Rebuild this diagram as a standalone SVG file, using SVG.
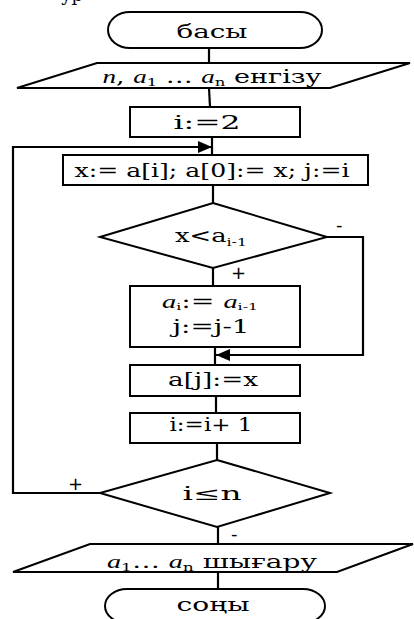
<svg xmlns="http://www.w3.org/2000/svg" width="414" height="619" viewBox="0 0 414 619">
<style>
.s{fill:#fff;stroke:#000;stroke-width:2}
.c{fill:none;stroke:#000;stroke-width:2.2}
.t{font-family:"DejaVu Serif","Liberation Serif",serif;font-size:18px;fill:#000;text-anchor:middle}
.it{font-family:"Liberation Serif",serif;font-style:italic}
.lb{font-family:"DejaVu Sans","Liberation Sans",sans-serif;font-size:18px;fill:#000}
</style>
<defs>
<marker id="ah2" markerWidth="14" markerHeight="12" refX="14" refY="6" orient="auto" markerUnits="userSpaceOnUse">
<path d="M0,0 L14,6 L0,12 Z" fill="#000"/>
</marker>
</defs>
<text x="72" y="1" class="t" font-size="20">ур</text>
<g id="connectors">
<line class="c" x1="209" y1="48" x2="209" y2="63"/>
<line class="c" x1="209" y1="88" x2="210" y2="107"/>
<line class="c" x1="212" y1="137" x2="212" y2="155"/>
<line class="c" x1="213" y1="185" x2="213" y2="203"/>
<line class="c" x1="213" y1="268" x2="213" y2="286"/>
<line class="c" x1="215" y1="347" x2="215" y2="365"/>
<line class="c" x1="216" y1="396" x2="216" y2="413"/>
<line class="c" x1="217" y1="443" x2="217" y2="460"/>
<line class="c" x1="218" y1="527" x2="218" y2="544"/>
<line class="c" x1="218" y1="572" x2="218" y2="589"/>
<polyline class="c" points="327,237 363,237 363,355 216,355" marker-end="url(#ah2)"/>
<polyline class="c" points="100,493 13,493 13,147 212,147" marker-end="url(#ah2)"/>
<text class="lb" x="336" y="231">-</text>
<text class="lb" x="231" y="279">+</text>
<text class="lb" x="68" y="490">+</text>
<text class="lb" x="231" y="540">-</text>
</g>
<g id="start">
<rect class="s" x="108" y="12" width="214" height="36" rx="22" ry="18"/>
<text class="t" x="212" y="38" textLength="71" lengthAdjust="spacingAndGlyphs">басы</text>
</g>
<g id="input">
<polygon class="s" points="97,63 410,63 330,88 17,88"/>
<text class="t" x="212" y="83" font-size="17" textLength="219" lengthAdjust="spacingAndGlyphs"><tspan class="it">n</tspan>, <tspan class="it">a</tspan><tspan font-size="11" dy="3">1</tspan><tspan dy="-3"> … </tspan><tspan class="it">a</tspan><tspan font-size="11" dy="3">n</tspan><tspan dy="-3"> енгізу</tspan></text>
</g>
<g id="init">
<rect class="s" x="130" y="107" width="170" height="30"/>
<text class="t" x="207" y="129" font-size="20" textLength="67" lengthAdjust="spacingAndGlyphs">i:=2</text>
</g>
<g id="assign">
<rect class="s" x="63" y="155" width="305" height="30"/>
<text class="t" x="212" y="177" textLength="275" lengthAdjust="spacingAndGlyphs">x:= a[i]; a[0]:= x; j:=i</text>
</g>
<g id="cond1">
<polygon class="s" points="213,203 327,237 213,268 100,237"/>
<text class="t" x="211" y="242" font-size="17" textLength="72" lengthAdjust="spacingAndGlyphs">x&lt;a<tspan font-size="11" dy="4">i-1</tspan></text>
</g>
<g id="shift">
<rect class="s" x="130" y="286" width="170" height="61"/>
<text class="t" x="210" y="308" font-size="17" textLength="96" lengthAdjust="spacingAndGlyphs"><tspan class="it">a</tspan><tspan font-size="10" dy="2">i</tspan><tspan dy="-2">:= </tspan><tspan class="it">a</tspan><tspan font-size="10" dy="2">i-1</tspan></text>
<text class="t" x="211" y="333" font-size="17" textLength="77" lengthAdjust="spacingAndGlyphs">j:=j-1</text>
</g>
<g id="store">
<rect class="s" x="130" y="365" width="170" height="31"/>
<text class="t" x="213" y="386" textLength="90" lengthAdjust="spacingAndGlyphs">a[j]:=x</text>
</g>
<g id="inc">
<rect class="s" x="130" y="413" width="170" height="30"/>
<text class="t" x="211" y="431" textLength="83" lengthAdjust="spacingAndGlyphs">i:=i+ 1</text>
</g>
<g id="cond2">
<polygon class="s" points="217,460 330,493 217,527 100,493"/>
<text class="t" x="212" y="500" font-size="19" textLength="59" lengthAdjust="spacingAndGlyphs">i≤n</text>
</g>
<g id="output">
<polygon class="s" points="90,544 413,544 337,572 13,572"/>
<text class="t" x="212" y="568" font-size="17" textLength="210" lengthAdjust="spacingAndGlyphs"><tspan class="it">a</tspan><tspan font-size="11" dy="3">1</tspan><tspan dy="-3">… </tspan><tspan class="it">a</tspan><tspan font-size="11" dy="3">n</tspan><tspan dy="-3"> шығару</tspan></text>
</g>
<g id="end">
<rect class="s" x="105" y="589" width="220" height="34" rx="22" ry="17"/>
<text class="t" x="213" y="611" textLength="73" lengthAdjust="spacingAndGlyphs">соңы</text>
</g>
</svg>
